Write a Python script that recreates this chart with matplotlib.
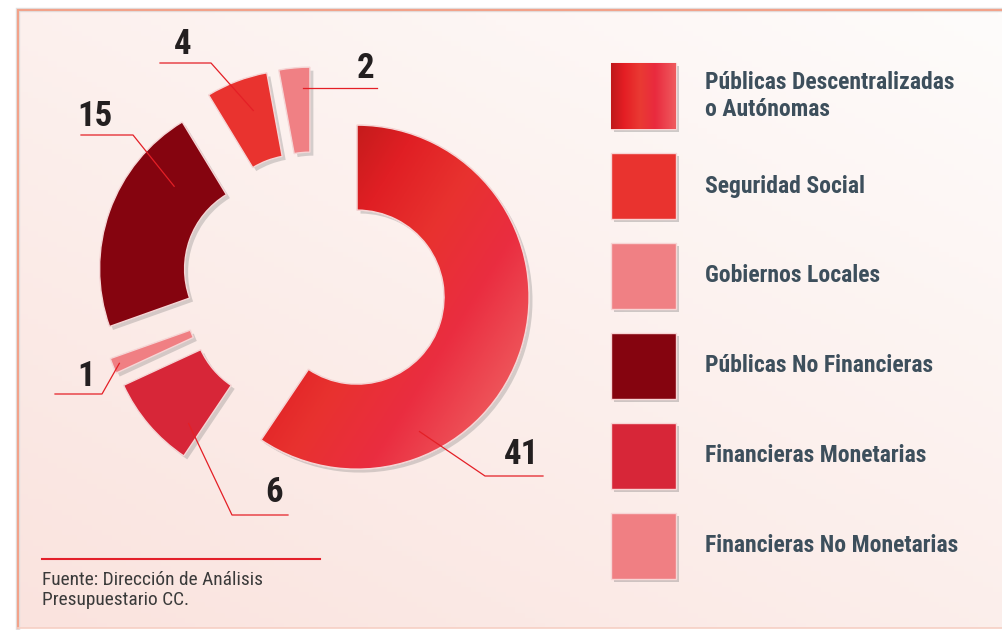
import numpy as np
import matplotlib
matplotlib.use("Agg")
import matplotlib.pyplot as plt
from matplotlib import patheffects as pe
from matplotlib import font_manager as fm
from matplotlib.colors import LinearSegmentedColormap, to_rgb
from matplotlib.patches import Rectangle, Wedge

# datos
labels = ["Públicas Descentralizadas\no Autónomas", "Financieras Monetarias",
          "Financieras No Monetarias", "Públicas No Financieras",
          "Seguridad Social", "Gobiernos Locales"]
values = [41, 6, 1, 15, 4, 2]
colors = ["#E42327", "#D72638", "#F07F83", "#85040F", "#E9332F", "#F08084"]
legend_order = [0, 4, 5, 3, 1, 2]
source = "Fuente: Dirección de Análisis\nPresupuestario CC."

W, H = 1003, 630

def Y(y):
    # pasar de coordenadas de imagen (y hacia abajo) a datos
    return H - y

# buscar una fuente estrecha
names = {f.name for f in fm.fontManager.ttflist}
cands = ["Liberation Sans Narrow", "Roboto Condensed", "Noto Sans Condensed",
         "Open Sans Condensed", "DejaVu Sans Condensed", "Arial Narrow"]
narrow = next((c for c in cands if c in names), None)
if narrow is None:
    extra = sorted(n for n in names if ("Condensed" in n or "Narrow" in n))
    narrow = extra[0] if extra else "Liberation Sans"
plt.rcParams["font.family"] = [narrow, "DejaVu Sans"]

fig = plt.figure(figsize=(W / 100, H / 100), dpi=100)
fig.patch.set_facecolor("white")
ax = fig.add_axes([0, 0, 1, 1])
renderer = fig.canvas.get_renderer()

def fit(t, target_w):
    # ajusta el tamaño de letra al ancho medido en la referencia
    w = t.get_window_extent(renderer).width
    t.set_fontsize(t.get_fontsize() * target_w / w)
    return t.get_fontsize()

# fondo con degradado
gx, gy = np.meshgrid(np.linspace(0, 1, 200), np.linspace(0, 1, 120))
p = np.clip(0.55 * gy + 0.45 * (1 - gx), 0, 1)
c0 = np.array(to_rgb("#FEFCFB"))
c1 = np.array(to_rgb("#FAE3DE"))
bg = c0 + (c1 - c0) * p[..., None]
ax.imshow(bg, extent=(18, W, Y(628), Y(10)), origin="upper", aspect="auto", zorder=0)

# borde
ax.plot([18, 18, W], [Y(628), Y(10), Y(10)], color="#E2E2E2", lw=3.2, zorder=0.5,
        solid_joinstyle="miter")
ax.plot([18, 18, W], [Y(628), Y(10), Y(10)], color="#F2A28A", lw=1.6, zorder=0.6,
        solid_joinstyle="miter")
ax.plot([18, W], [Y(628), Y(628)], color="#F6CFC4", lw=1.2, zorder=0.6)

# dona
R, ring = 172, 85
wedges, _ = ax.pie(values, colors=colors, startangle=90, counterclock=False,
                   radius=R, center=(314, Y(284)), explode=[45] * len(values),
                   wedgeprops=dict(width=ring, edgecolor="#F5D6D6", linewidth=1.0))
for w in wedges:
    w.set_path_effects([pe.SimplePatchShadow(offset=(2.5, -2.5), shadow_rgbFace="#7a7a7a", alpha=0.3),
                        pe.Normal()])
    w.set_zorder(2)

# degradado de la porción mayor
grad41 = LinearSegmentedColormap.from_list("g41", [(0, "#C21B1B"), (0.2, "#E01F24"),
                                                   (0.43, "#E8322F"), (0.68, "#EA2D40"),
                                                   (1, "#EF5E60")])
big = wedges[0]
bx0, by0, bx1, by1 = big.get_path().get_extents().extents
xs = np.linspace(bx0, bx1, 300)
ys = np.linspace(by1, by0, 300)
GX, GY = np.meshgrid(xs, ys)
T = 0.85 * GX + 0.53 * (H - GY)
T = (T - 364) / (654 - 364)
im = ax.imshow(np.clip(T, 0, 1), cmap=grad41, vmin=0, vmax=1,
               extent=(bx0, bx1, by0, by1), origin="upper", aspect="auto", zorder=2.5)
im.set_clip_path(big)
big.set_facecolor("none")
ax.add_patch(Wedge(big.center, big.r, big.theta1, big.theta2, width=big.width,
                   fill=False, edgecolor="#F5D6D6", lw=1.0, zorder=2.6))

# etiquetas con líneas guía: (fracción de ángulo, fracción radial, puntos de la línea, texto)
layout = [
    (0.275, 0.72, [(485, 476), (543, 476)], (522, 455)),
    (0.82, 0.66, [(232, 515), (288, 515)], (274, 493)),
    (0.5, 0.92, [(102, 394), (55, 394)], (86, 376)),
    (0.235, 0.48, [(133, 135), (81, 135)], (95, 116)),
    (0.4, 0.61, [(211, 63), (160, 63)], (183, 45)),
    (0.26, 0.76, [(377, None)], (366, 68)),
]
for w, v, (fa, fr, pts, tpos) in zip(wedges, values, layout):
    ang = np.radians(w.theta1 + fa * (w.theta2 - w.theta1))
    rr = w.r - w.width + fr * w.width
    ax0 = w.center[0] + rr * np.cos(ang)
    ay0 = w.center[1] + rr * np.sin(ang)
    lx = [ax0]
    ly = [ay0]
    for px, py in pts:
        lx.append(px)
        ly.append(ay0 if py is None else Y(py))
    ax.plot(lx, ly, color="#E41F26", lw=0.9, zorder=4)
    ax.text(tpos[0], Y(tpos[1]), str(v), ha="center", va="center", fontsize=25,
            fontweight="bold", fontstretch="condensed", color="#231F20", zorder=5)

# leyenda
grad_sq = LinearSegmentedColormap.from_list("gsq", [(0, "#BF191B"), (0.2, "#E41E24"),
                                                    (0.45, "#EA3A33"), (0.68, "#E92A3E"),
                                                    (1, "#EF5B5E")])
probe = ax.text(0, 0, labels[0].split("\n")[0], fontsize=17, fontweight="bold",
                fontstretch="condensed")
leg_fs = min(fit(probe, 257), 17)
probe.remove()
for k, i in enumerate(legend_order):
    y_top = 63 + 90 * k
    sq = Rectangle((611, Y(y_top + 66)), 65, 66, facecolor=colors[i], edgecolor="#F7D5D5",
                   lw=1.0, zorder=3)
    sq.set_path_effects([pe.SimplePatchShadow(offset=(2.5, -2.5), shadow_rgbFace="#7a7a7a", alpha=0.35),
                         pe.Normal()])
    ax.add_patch(sq)
    if i == 0:
        im2 = ax.imshow(np.linspace(0, 1, 200)[None, :], cmap=grad_sq, vmin=0, vmax=1,
                        extent=(611, 676, Y(y_top + 66), Y(y_top)), aspect="auto", zorder=3.1)
        im2.set_clip_path(sq)
    ax.text(705, Y(y_top + 33), labels[i], ha="left", va="center", fontsize=leg_fs,
            fontweight="bold", fontstretch="condensed", color="#3D4F5C",
            linespacing=1.3 * 17 / leg_fs if leg_fs < 17 else 1.25, zorder=5)

# fuente
ax.plot([42, 320], [Y(559), Y(559)], color="#E3202A", lw=1.5, zorder=4)
probe = ax.text(0, 0, source.split("\n")[0], fontsize=13, fontstretch="condensed")
src_fs = min(fit(probe, 220), 15)
probe.remove()
ax.text(42, Y(590), source, ha="left", va="center", fontsize=src_fs, color="#3A3A3A",
        fontstretch="condensed", linespacing=1.25 * 13 / src_fs, zorder=5)

ax.set_xlim(0, W)
ax.set_ylim(0, H)
ax.set_aspect("auto")
ax.axis("off")

fig.savefig("out.png", dpi=100)
